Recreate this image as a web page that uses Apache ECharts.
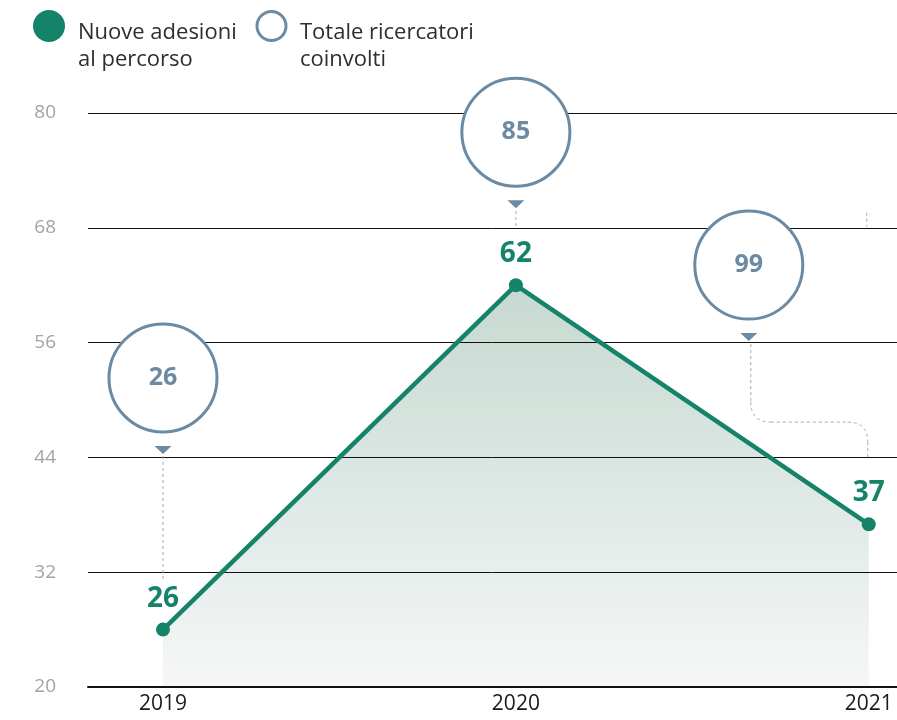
<!DOCTYPE html>
<html>
<head>
<meta charset="utf-8">
<script src="https://cdn.jsdelivr.net/npm/echarts@6/dist/echarts.min.js"></script>
<style>
  html, body { margin: 0; padding: 0; background: #fff; }
  #chart { width: 897px; height: 720px; }
</style>
</head>
<body>
<div id="chart"></div>
<script>
// data
const years = ["2019", "2020", "2021"];
const nuoveAdesioni = [26, 62, 37];
const totaleRicercatori = [26, 85, 99];
const yTicks = [20, 32, 44, 56, 68, 80];

// where the bubbles sit (axis units), kept apart from the data
const bubbleX = [0, 1, 1.66];
const bubbleY = [52.3, 78, 64.1];

const GREEN = "#15836a";
const SLATE = "#6b8aa3";
const FONT = "'Open Sans', 'Noto Sans', sans-serif";

const lineData = nuoveAdesioni.map((v, i) => [i, v]);
const bubbleData = totaleRicercatori.map((v, i) => [bubbleX[i], bubbleY[i], v]);

const chart = echarts.init(document.getElementById("chart"));

const option = {
  animation: false,
  textStyle: { fontFamily: FONT },
  grid: { left: 88, right: 0, top: 113, bottom: 33, outerBoundsMode: "none" },
  xAxis: {
    type: "value",
    min: -0.2125,
    max: 2.08,
    z: 3,
    splitLine: { show: false },
    axisTick: { show: false },
    axisLine: { show: true, lineStyle: { color: "#111", width: 2 } },
    axisLabel: {
      customValues: [0, 1, 2],
      formatter: (v) => years[Math.round(v)],
      color: "#1a1a1a",
      fontSize: 21,
      margin: 7,
      fontFamily: FONT
    }
  },
  yAxis: {
    type: "value",
    min: yTicks[0],
    max: yTicks[yTicks.length - 1],
    interval: 12,
    z: 2,
    axisLine: { show: false },
    axisTick: { show: false },
    axisLabel: { color: "#a3a3a3", fontSize: 19, margin: 32, fontFamily: FONT },
    splitLine: { lineStyle: { color: "#111", width: 1 } }
  },
  series: [
    {
      // shaded area under the line
      type: "line",
      data: lineData,
      z: 1,
      silent: true,
      symbol: "none",
      lineStyle: { width: 0 },
      areaStyle: {
        opacity: 1,
        color: new echarts.graphic.LinearGradient(0, 0, 0, 1, [
          { offset: 0, color: "#c6d9d1" },
          { offset: 1, color: "#f5f7f6" }
        ])
      }
    },
    {
      name: "Nuove adesioni al percorso",
      type: "line",
      data: lineData,
      z: 4,
      symbol: "circle",
      symbolSize: 14,
      itemStyle: { color: GREEN },
      lineStyle: { color: GREEN, width: 4.5 },
      label: {
        show: true,
        position: "top",
        distance: 10,
        formatter: (p) => p.value[1],
        color: GREEN,
        fontSize: 28,
        fontWeight: "bold",
        fontFamily: FONT
      }
    },
    {
      name: "Totale ricercatori coinvolti",
      type: "scatter",
      data: bubbleData,
      z: 5,
      symbol: "circle",
      symbolSize: 108,
      itemStyle: { color: "#fff", borderColor: SLATE, borderWidth: 3, opacity: 1 },
      label: {
        show: true,
        position: "inside",
        formatter: (p) => p.value[2],
        color: SLATE,
        fontSize: 25,
        fontWeight: "bold",
        fontFamily: FONT
      }
    },
    {
      // little pointers under the bubbles
      type: "scatter",
      data: bubbleData,
      z: 5,
      silent: true,
      symbol: "triangle",
      symbolRotate: 180,
      symbolSize: [17, 8],
      symbolOffset: [0, 72],
      itemStyle: { color: SLATE, opacity: 1 }
    }
  ]
};

chart.setOption(option);

// dotted connectors from bubble pointers down to the line labels
const px = (x, y) => chart.convertToPixel({ gridIndex: 0 }, [x, y]);
const dash = { stroke: "#a8a8a8", lineWidth: 1, lineDash: [3, 3], fill: null };
const seg = (x1, y1, x2, y2) => ({ type: "line", shape: { x1, y1, x2, y2 }, style: dash });
const corner = (x1, y1, cx, cy, x2, y2) => ({
  type: "bezierCurve",
  shape: { x1, y1, x2, y2, cpx1: cx, cpy1: cy },
  style: dash
});
const connectors = [];

const b0 = px(bubbleX[0], bubbleY[0]);
const p0 = px(0, nuoveAdesioni[0]);
connectors.push(seg(b0[0], b0[1] + 78, p0[0], p0[1] - 48));

const b1 = px(bubbleX[1], bubbleY[1]);
const p1 = px(1, nuoveAdesioni[1]);
connectors.push(seg(b1[0], b1[1] + 79, b1[0], p1[1] - 57));

const b2 = px(bubbleX[2], bubbleY[2]);
const p2 = px(2, nuoveAdesioni[2]);
const sx = b2[0] + 2, sy = b2[1] + 79, midY = sy + 78, ex = p2[0] - 1, ey = p2[1] - 65, r = 20;
connectors.push(seg(sx, sy, sx, midY - r));
connectors.push(corner(sx, midY - r, sx, midY, sx + r, midY));
connectors.push(seg(sx + r, midY, ex - r, midY));
connectors.push(corner(ex - r, midY, ex, midY, ex, midY + r));
connectors.push(seg(ex, midY + r, ex, ey));

const g68 = px(2, 68);
connectors.push(seg(g68[0] - 2, g68[1] - 15, g68[0] - 2, g68[1] - 1));

// legend
const legendFont = "22px " + FONT;
const legend = [
  { type: "circle", shape: { cx: 49, cy: 26, r: 16 }, style: { fill: GREEN } },
  {
    type: "text", left: 78, top: 19,
    style: { text: "Nuove adesioni\nal percorso", font: legendFont, fill: "#2e2e2e", lineHeight: 27 }
  },
  { type: "circle", shape: { cx: 271.5, cy: 26, r: 14.5 }, style: { fill: "#fff", stroke: SLATE, lineWidth: 3 } },
  {
    type: "text", left: 300, top: 19,
    style: { text: "Totale ricercatori\ncoinvolti", font: legendFont, fill: "#2e2e2e", lineHeight: 27 }
  }
];

chart.setOption({
  graphic: connectors.map((c) => Object.assign({ z: 3, silent: true }, c)).concat(legend)
});
</script>
</body>
</html>
